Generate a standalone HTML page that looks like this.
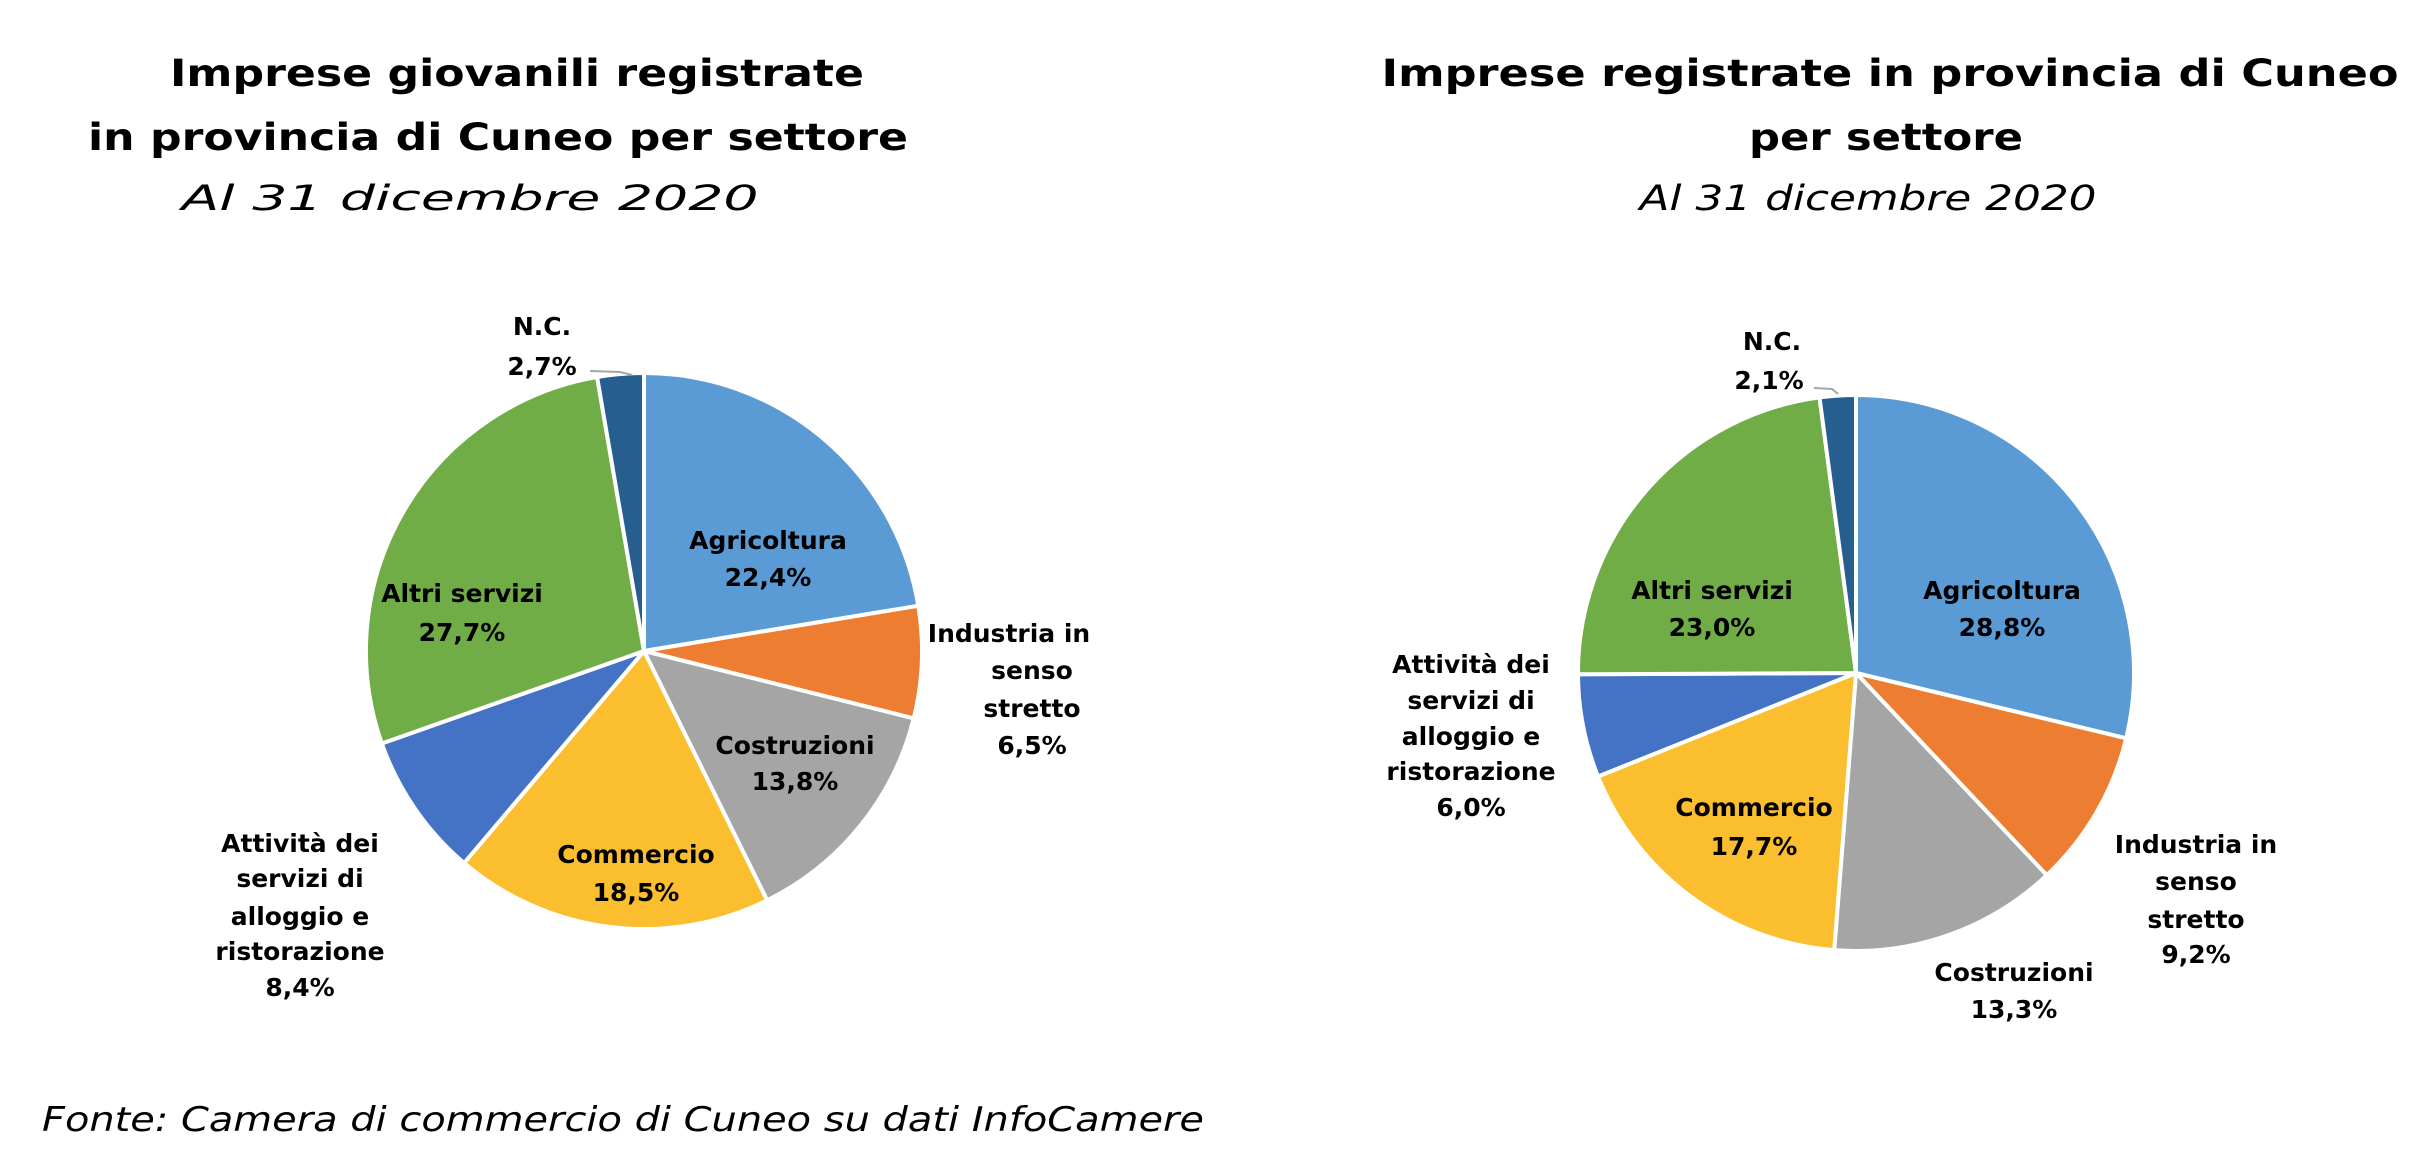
<!DOCTYPE html>
<html><head><meta charset="utf-8">
<style>
html,body{margin:0;padding:0;background:#fff;}
svg{display:block;}
text{font-family:"DejaVu Sans","Liberation Sans",sans-serif;fill:#000;}
.t{font-weight:bold;font-size:37px;}
.s{font-style:italic;font-size:35px;}
.l{font-weight:bold;font-size:25px;}
</style></head>
<body>
<svg id="c" width="2434" height="1176" viewBox="0 0 2434 1176" xmlns="http://www.w3.org/2000/svg">
<g id="p1"></g><g id="p2"></g>
<text class="t" x="517" y="86" text-anchor="middle" textLength="694" lengthAdjust="spacingAndGlyphs">Imprese giovanili registrate</text>
<text class="t" x="498" y="150" text-anchor="middle" textLength="820" lengthAdjust="spacingAndGlyphs">in provincia di Cuneo per settore</text>
<text class="s" x="470" y="210" text-anchor="middle" textLength="577" lengthAdjust="spacingAndGlyphs">Al 31 dicembre 2020</text>
<text class="t" x="1890" y="86" text-anchor="middle" textLength="1017" lengthAdjust="spacingAndGlyphs">Imprese registrate in provincia di Cuneo</text>
<text class="t" x="1886" y="150" text-anchor="middle" textLength="274" lengthAdjust="spacingAndGlyphs">per settore</text>
<text class="s" x="1868" y="210" text-anchor="middle" textLength="457" lengthAdjust="spacingAndGlyphs">Al 31 dicembre 2020</text>
<text class="s" x="42" y="1131" textLength="1162" lengthAdjust="spacingAndGlyphs" style="font-size:34px">Fonte: Camera di commercio di Cuneo su dati InfoCamere</text>
<g class="lbl" text-anchor="middle">
<text class="l" x="542" y="335">N.C.</text>
<text class="l" x="542" y="375">2,7%</text>
<text class="l" x="768" y="549">Agricoltura</text>
<text class="l" x="768" y="586">22,4%</text>
<text class="l" x="462" y="602">Altri servizi</text>
<text class="l" x="462" y="641">27,7%</text>
<text class="l" x="1009" y="642">Industria  in</text>
<text class="l" x="1032" y="679">senso</text>
<text class="l" x="1032" y="717">stretto</text>
<text class="l" x="1032" y="754">6,5%</text>
<text class="l" x="795" y="754">Costruzioni</text>
<text class="l" x="795" y="790">13,8%</text>
<text class="l" x="636" y="863">Commercio</text>
<text class="l" x="636" y="901">18,5%</text>
<text class="l" x="300" y="852">Attività  dei</text>
<text class="l" x="300" y="887">servizi di</text>
<text class="l" x="300" y="925">alloggio  e</text>
<text class="l" x="300" y="960">ristorazione</text>
<text class="l" x="300" y="996">8,4%</text>

<text class="l" x="1772" y="350">N.C.</text>
<text class="l" x="1769" y="389">2,1%</text>
<text class="l" x="2002" y="599">Agricoltura</text>
<text class="l" x="2002" y="636">28,8%</text>
<text class="l" x="1712" y="599">Altri servizi</text>
<text class="l" x="1712" y="636">23,0%</text>
<text class="l" x="1471" y="673">Attività  dei</text>
<text class="l" x="1471" y="709">servizi di</text>
<text class="l" x="1471" y="745">alloggio  e</text>
<text class="l" x="1471" y="780">ristorazione</text>
<text class="l" x="1471" y="816">6,0%</text>
<text class="l" x="1754" y="816">Commercio</text>
<text class="l" x="1754" y="855">17,7%</text>
<text class="l" x="2196" y="853">Industria  in</text>
<text class="l" x="2196" y="890">senso</text>
<text class="l" x="2196" y="928">stretto</text>
<text class="l" x="2196" y="963">9,2%</text>
<text class="l" x="2014" y="981">Costruzioni</text>
<text class="l" x="2014" y="1018">13,3%</text>
</g>
<path d="M590 371 L620 372 L632 375" fill="none" stroke="#a6a6a6" stroke-width="2"/>
<path d="M1814 388 L1832 389 L1838 394" fill="none" stroke="#a6a6a6" stroke-width="2"/>
</svg>
<script>
var cols=["#5B9BD5","#ED7D31","#A5A5A5","#FBBE2E","#4472C4","#70AD47","#265E8F"];
function pie(id,cx,cy,r,vals){
  var g=document.getElementById(id),a=0,tot=vals.reduce(function(s,v){return s+v},0),h="";
  vals.forEach(function(v,i){
    var a0=a/tot*2*Math.PI,a1=(a+v)/tot*2*Math.PI;a+=v;
    var x0=cx+r*Math.sin(a0),y0=cy-r*Math.cos(a0),x1=cx+r*Math.sin(a1),y1=cy-r*Math.cos(a1);
    h+='<path d="M'+cx+' '+cy+' L'+x0.toFixed(1)+' '+y0.toFixed(1)+' A'+r+' '+r+' 0 '+((a1-a0)>Math.PI?1:0)+' 1 '+x1.toFixed(1)+' '+y1.toFixed(1)+' Z" fill="'+cols[i]+'" stroke="#fff" stroke-width="4" stroke-linejoin="round"/>';
  });
  g.innerHTML=h;
}
pie("p1",644,651,278,[22.4,6.5,13.8,18.5,8.4,27.7,2.7]);
pie("p2",1856,673,278,[28.8,9.2,13.3,17.7,6.0,23.0,2.1]);
</script>
</body></html>
